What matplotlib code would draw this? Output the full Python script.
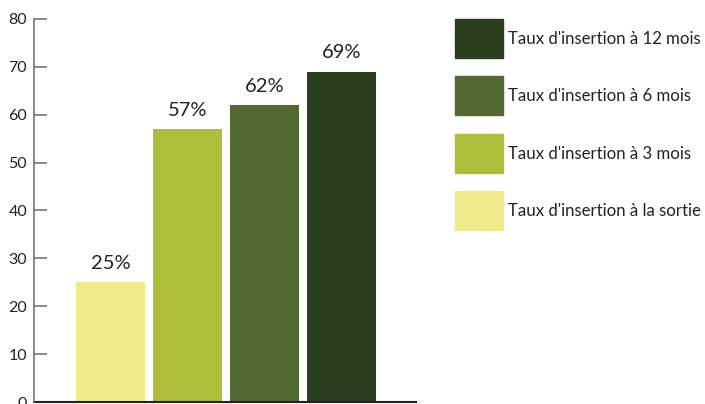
import matplotlib
matplotlib.use("Agg")
import matplotlib.pyplot as plt
from matplotlib.patches import Rectangle

categories = ["Taux d'insertion à la sortie", "Taux d'insertion à 3 mois",
              "Taux d'insertion à 6 mois", "Taux d'insertion à 12 mois"]
values = [25, 57, 62, 69]
labels = ["25%", "57%", "62%", "69%"]
colors = ["#f0ec8c", "#aebd3a", "#526a32", "#2a3f1e"]
yticks = [0, 10, 20, 30, 40, 50, 60, 70, 80]

plt.rcParams['font.family'] = ['Lato', 'DejaVu Sans']

fig = plt.figure(figsize=(7.05, 4.04), dpi=100)
ax = fig.add_axes([34/705, 1-402/404, (416-34)/705, (402-19)/404])
x = list(range(len(values)))
bars = ax.bar(x, values, width=0.896, color=colors)
for xi, v, lab in zip(x, values, labels):
    ax.text(xi, v + 2.2, lab, ha='center', va='bottom', fontsize=14.5, color='#222222')
ax.set_xlim(-0.994, 3.97)
ax.set_ylim(0, 80)
ax.set_yticks(yticks)
ax.set_xticks([])
ax.tick_params(axis='y', direction='in', length=9, width=1.2, color='#777777',
               labelsize=11.5, labelcolor='#222222', pad=5)
for s in ['top', 'right']:
    ax.spines[s].set_visible(False)
ax.spines['left'].set_color('#777777')
ax.spines['left'].set_linewidth(1.2)
ax.spines['bottom'].set_color('#222222')
ax.spines['bottom'].set_linewidth(1.5)
ax.spines['left'].set_zorder(5)

# legend (top to bottom: reversed order)
tops = [19, 76, 134, 191]
for i, (cat, col) in enumerate(zip(categories[::-1], colors[::-1])):
    t = tops[i]
    fig.add_artist(Rectangle((455/705, 1-(t+39)/404), 48/705, 39/404,
                             transform=fig.transFigure, color=col))
    fig.text(508/705, 1-(t+20)/404, cat, ha='left', va='center',
             fontsize=12.1, color='#222222')

fig.savefig("out.png", dpi=100)
